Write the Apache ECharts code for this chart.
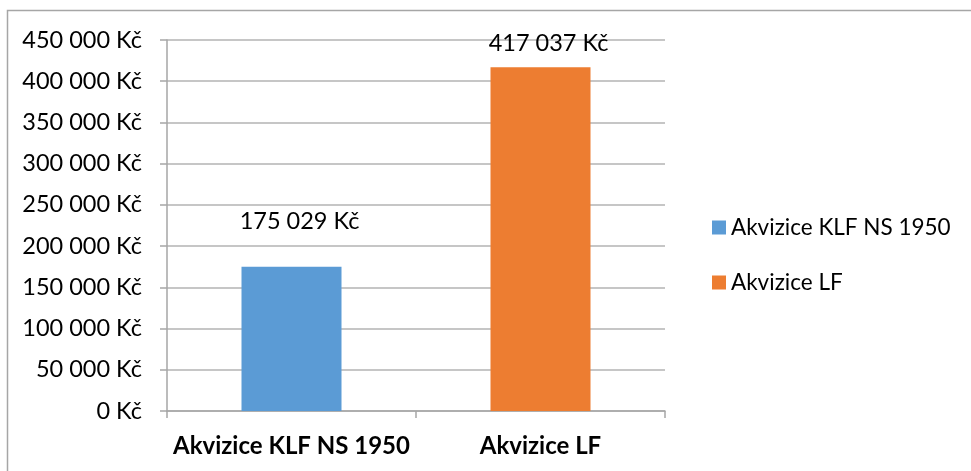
<!DOCTYPE html>
<html><head><meta charset="utf-8">
<script src="https://cdn.jsdelivr.net/npm/echarts@6/dist/echarts.min.js"></script>
<style>html,body{margin:0;padding:0;background:#fff}#c{width:971px;height:471px}</style>
</head><body><div id="c"></div>
<script>
const categories = ['Akvizice KLF NS 1950', 'Akvizice LF'];
const seriesNames = ['Akvizice KLF NS 1950', 'Akvizice LF'];
const klfValues = [175029, '-'];
const lfValues = ['-', 417037];
const yTicks = [0, 50000, 100000, 150000, 200000, 250000, 300000, 350000, 400000, 450000];

const FONT = 'Lato';
function fmt(v) {
  return String(Math.round(v)).replace(/\B(?=(\d{3})+(?!\d))/g, ' ') + ' Kč';
}
const chart = echarts.init(document.getElementById('c'));
chart.setOption({
  animation: false,
  textStyle: { fontFamily: FONT },
  graphic: [{ type: 'rect', shape: { x: 7.5, y: 10.5, width: 1000, height: 500 }, style: { fill: 'none', stroke: '#a6a6a6', lineWidth: 1.5 }, silent: true }],
  grid: { left: 167, right: 306, top: 40, bottom: 60 },
  legend: {
    orient: 'vertical', left: 707, top: 211, itemWidth: 14, itemHeight: 14, itemGap: 32,
    icon: 'rect',
    textStyle: { fontFamily: FONT, fontSize: 22.5, color: '#000' },
    data: seriesNames
  },
  xAxis: {
    type: 'category', data: categories,
    axisLine: { lineStyle: { color: '#a6a6a6', width: 1.5 } },
    axisTick: { show: true, length: 7, lineStyle: { color: '#a6a6a6', width: 1.5 } },
    axisLabel: { interval: 0, hideOverlap: false, margin: 23, fontFamily: FONT, fontSize: 24, fontWeight: 'bold', color: '#000' }
  },
  yAxis: {
    type: 'value', min: yTicks[0], max: yTicks[yTicks.length - 1], interval: yTicks[1] - yTicks[0],
    axisLine: { show: true, lineStyle: { color: '#a6a6a6', width: 1.5 } },
    axisTick: { show: true, length: 7, lineStyle: { color: '#a6a6a6', width: 1.5 } },
    splitLine: { lineStyle: { color: '#b3b3b3', width: 1.5 } },
    axisLabel: { margin: 25, fontFamily: FONT, fontSize: 23.5, color: '#000', formatter: fmt }
  },
  series: [
    {
      name: seriesNames[0], type: 'bar', stack: 's', barWidth: 100,
      itemStyle: { color: '#5B9BD5' },
      label: { show: true, position: 'top', distance: 33, offset: [8, 0], fontFamily: FONT, fontSize: 23.5, color: '#000', formatter: p => fmt(p.value) },
      data: klfValues
    },
    {
      name: seriesNames[1], type: 'bar', stack: 's', barWidth: 100,
      itemStyle: { color: '#ED7D31' },
      label: { show: true, position: 'top', distance: 12, offset: [8, 0], fontFamily: FONT, fontSize: 23.5, color: '#000', formatter: p => fmt(p.value) },
      data: lfValues
    }
  ]
});
</script></body></html>
